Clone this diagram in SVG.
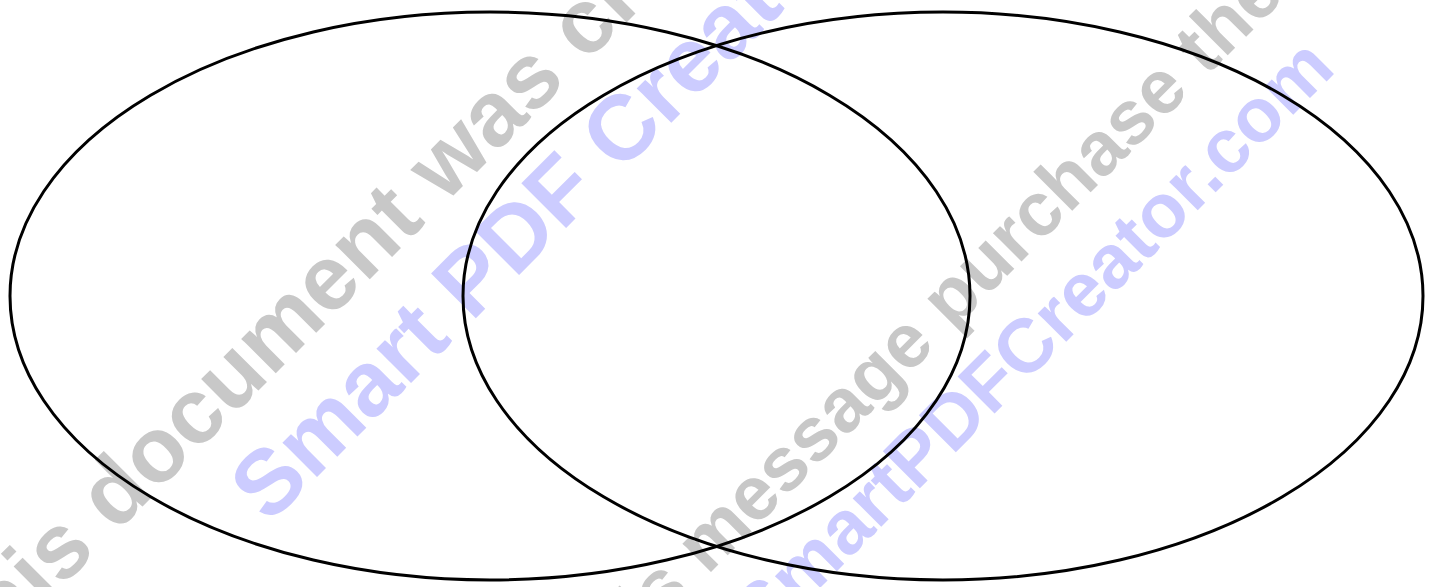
<svg xmlns="http://www.w3.org/2000/svg" width="1434" height="587" viewBox="0 0 1434 587">
  <style>
    .wm { font-family: "Liberation Sans", Arial, sans-serif; font-weight: bold; }
    .big { font-size: 92px; }
    .small { font-size: 76px; }
    .gray { fill: #c8c8c8; }
    .blue { fill: #ccccff; }
    .set { fill: none; stroke: #000000; stroke-width: 3; }
  </style>
  <rect x="0" y="0" width="1434" height="587" fill="#ffffff"/>
  <g id="watermark">
    <text class="wm big gray" transform="translate(-36,685) rotate(-45)">This document was created</text>
    <text class="wm big blue" transform="translate(269,525) rotate(-45)">Smart PDF Creator</text>
    <text class="wm small gray" transform="translate(314,969) rotate(-45)">To remove this message purchase the</text>
    <text class="wm small blue" transform="translate(764,644) rotate(-45)">SmartPDFCreator.com</text>
  </g>
  <g id="set-left">
    <ellipse class="set" cx="490" cy="296" rx="480" ry="284"/>
  </g>
  <g id="set-right">
    <ellipse class="set" cx="943" cy="296" rx="480" ry="284"/>
  </g>
</svg>
